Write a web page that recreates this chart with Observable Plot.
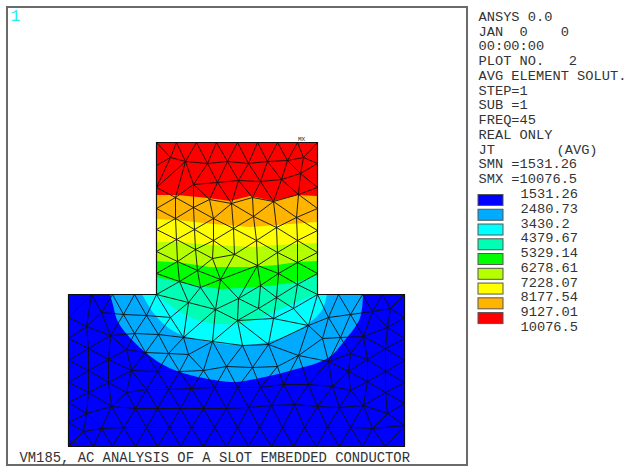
<!DOCTYPE html>
<html>
<head>
<meta charset="utf-8">
<style>html,body{margin:0;padding:0;background:#fff}svg{display:block}</style>
<script src="https://cdn.jsdelivr.net/npm/d3@7"></script>
<script src="https://cdn.jsdelivr.net/npm/@observablehq/plot@0.6"></script>
</head>
<body>
<div id="chart"></div>
<script>
// Model-space values
const meshNodes = [
  // conductor
  [156,142],[176,142],[196,142],[216,142],[237,142],[257,142],[277,142],[297,142],[317,142],
  [156,165],[156,187],[156,208],[156,229],[156,251],[156,273],
  [317,163],[317,187],[317,208],[317,230],[317,252],[317,273],
  [170,157],[175,197],[175,218],[176,239],[177,261],[179,281],
  [185,161],[193,184],[193,207],[194,229],[195,249],[197,270],[200,287],
  [207,163],[217,182],[209,199],[213,218],[213,240],[212,258],[220,279],
  [227,161],[238,180],[231,203],[233,228],[234,254],
  [248,163],[260,181],[252,197],[253,216],[256,240],[257,265],[260,285],
  [267,161],[281,179],[273,201],[276,227],[277,252],[278,273],
  [287,160],[300,173],[298,194],[296,217],[297,240],[297,262],[297,284],
  [303,157],
  // slot
  [68,294],[68,317],[68,338],[68,360],[68,382],[68,402],[68,422],[68,446],
  [91,294],[112,294],[134,294],[156,294],[317,294],[338,294],[362,294],[382,294],[404,294],
  [101,312],[123,314],[146,315],[170,317],[188,302],[215,309],[238,298],[276,297],
  [86,326],[110,335],[134,333],[158,334],[183,337],[212,341],
  [88,348],[108,359],[126,349],[145,352],[168,353],[188,354],[226,366],[203,370],
  [88,370],[131,370],[157,371],[179,371],[108,382],
  [88,392],[126,392],[146,389],[168,389],[191,388],[214,387],[237,387],
  [111,406],[86,413],[135,408],[157,408],[180,408],[203,408],[226,408],
  [101,428],[83,431],[123,427],[146,427],[169,427],[191,427],[214,427],[237,427],
  [93,446],[112,446],[135,446],[157,446],[180,446],[203,446],[226,446],
  [258,308],[293,308],[273,318],[237,320],[308,325],[328,317],[350,314],[372,311],[390,308],
  [268,344],[242,345],[298,355],[322,338],[340,337],[363,336],[387,327],[404,317],
  [252,367],[277,366],[328,361],[350,353],[385,348],[404,338],
  [260,387],[283,384],[308,384],[332,386],[348,371],[367,359],[385,371],[404,360],
  [350,390],[367,381],[385,392],[404,382],
  [248,407],[271,405],[294,404],[317,406],[339,407],[363,405],[387,413],[404,403],
  [259,427],[282,427],[304,427],[327,427],[350,427],[372,428],[404,425],
  [248,446],[271,446],[293,446],[316,446],[339,446],[362,446],[385,446],[404,446]
];
const outline = [[156,142],[317,142],[317,294],[404,294],[404,446],[68,446],[68,294],[156,294],[156,142]];

// Contour band edges (each band is painted from its edge down to the slot top)
const orangeEdge = [[156,195],[177,195],[208,198],[230,201],[250,196],[273,201],[297,195],[317,196]];
const yellowEdge = [[156,219],[177,220],[213,224],[250,227],[277,225],[317,222]];
const limeEdge   = [[156,242],[177,242],[213,245],[253,247],[277,245],[317,243]];
const greenEdge  = [[156,261],[183,263],[210,267],[250,267],[277,265],[297,262],[317,261]];
const tealEdge   = [[156,277],[183,283],[220,289],[260,287],[297,282],[317,275]];
const tealBottom = [[156,294],[180,312],[205,322],[238,324],[260,318],[290,305],[317,294]];
const cyanBottom = [[142,294],[155,315],[175,332],[210,342],[240,345],[268,342],[302,328],[322,310],[327,294]];
const skyBottom  = [[110,294],[113,305],[118,322],[134,342],[160,363],[180,372],[203,378],[236,382],[260,378],[293,370],[328,358],[345,340],[360,318],[363,294]];

const legendColors = ["#0000ff","#00aaff","#00ffff","#00ffb4","#00ff00","#b4ff00","#ffff00","#ffb400","#ff0000"];
const legendValues = ["1531.26","2480.73","3430.2","4379.67","5329.14","6278.61","7228.07","8177.54","9127.01","10076.5"];
const infoLines = ["ANSYS 0.0","JAN  0    0","00:00:00","PLOT NO.   2","AVG ELEMENT SOLUT.","STEP=1","SUB =1","FREQ=45","REAL ONLY","JT","SMN =1531.26","SMX =10076.5"];
const caption = "VM185, AC ANALYSIS OF A SLOT EMBEDDED CONDUCTOR";

// Mesh connectivity from the nodes
const del = d3.Delaunay.from(meshNodes);
const inside = (x, y) => (x > 156 && x < 317 && y > 142 && y <= 294.5) || (x > 68 && x < 404 && y >= 294 && y < 446);
const seen = new Set(), edges = [];
for (let t = 0; t < del.triangles.length; t += 3) {
  const ids = [del.triangles[t], del.triangles[t + 1], del.triangles[t + 2]];
  const cx = d3.mean(ids, i => meshNodes[i][0]), cy = d3.mean(ids, i => meshNodes[i][1]);
  if (!inside(cx, cy)) continue;
  for (let k = 0; k < 3; k++) {
    const a = ids[k], b = ids[(k + 1) % 3], key = Math.min(a, b) + "-" + Math.max(a, b);
    if (!seen.has(key)) { seen.add(key); edges.push([meshNodes[a], meshNodes[b]]); }
  }
}

const band = (pts, fill, curve = "linear") =>
  Plot.areaY(pts, {x: d => d[0], y1: d => d[1], y2: 294, fill, curve});
const bandBelow = (pts, fill, curve = "catmull-rom") =>
  Plot.areaY(pts, {x: d => d[0], y1: 294, y2: d => d[1], fill, curve});

const mono = {fontFamily: "'Liberation Mono', monospace", fontSize: 13.7, fill: "#333", textAnchor: "start", lineAnchor: "middle"};
const rowY = i => 16 + i * 14.76;

const svg = Plot.plot({
  width: 628, height: 474,
  marginTop: 0, marginRight: 0, marginBottom: 0, marginLeft: 0,
  x: {domain: [0, 628], axis: null},
  y: {domain: [474, 0], axis: null},
  style: {background: "#fff"},
  marks: [
    Plot.rect([0], {x1: 7, x2: 467, y1: 7, y2: 465, fill: "#fff", stroke: "#6a6a6a", strokeWidth: 2}),
    Plot.rect([0], {x1: 68, x2: 404, y1: 294, y2: 446, fill: legendColors[0]}),
    Plot.rect([0], {x1: 156, x2: 317, y1: 142, y2: 295, fill: legendColors[8]}),
    bandBelow(skyBottom, legendColors[1]),
    bandBelow(cyanBottom, legendColors[2]),
    band(orangeEdge, legendColors[7]),
    band(yellowEdge, legendColors[6]),
    band(limeEdge, legendColors[5]),
    band(greenEdge, legendColors[4]),
    band(tealEdge, legendColors[3]),
    bandBelow(tealBottom, legendColors[3]),
    Plot.link(edges, {x1: d => d[0][0], y1: d => d[0][1], x2: d => d[1][0], y2: d => d[1][1], stroke: "#101010", strokeWidth: 0.9}),
    Plot.line(outline, {x: d => d[0], y: d => d[1], stroke: "#101010", strokeWidth: 1.2}),
    Plot.text(["1"], {x: 15, y: 15, text: d => d, fontFamily: "'Liberation Mono', monospace", fontSize: 16, fill: "#22eeee", textAnchor: "middle"}),
    Plot.text(["MX"], {x: 301, y: 139, text: d => d, fontFamily: "'Liberation Mono', monospace", fontSize: 6, fill: "#222"}),
    Plot.text(["MN"], {x: 74, y: 442, text: d => d, fontFamily: "'Liberation Mono', monospace", fontSize: 6, fill: "#222"}),
    Plot.text([caption], {x: 19, y: 457, text: d => d, ...mono, fontSize: 13.85}),
    Plot.text(infoLines, {x: 478, y: (d, i) => rowY(i), text: d => d.replace(/ /g, "\u00a0"), ...mono}),
    Plot.text(["(AVG)"], {x: 556, y: rowY(9), text: d => d, ...mono}),
    Plot.rect(legendColors, {x1: 478, x2: 503, y1: (d, i) => 194.5 + i * 14.76, y2: (d, i) => 205.5 + i * 14.76, fill: d => d, stroke: "#555", strokeWidth: 1}),
    Plot.text(legendValues, {x: 520, y: (d, i) => rowY(12 + i), text: d => d, ...mono})
  ]
});
document.getElementById("chart").appendChild(svg);
</script>
</body>
</html>
